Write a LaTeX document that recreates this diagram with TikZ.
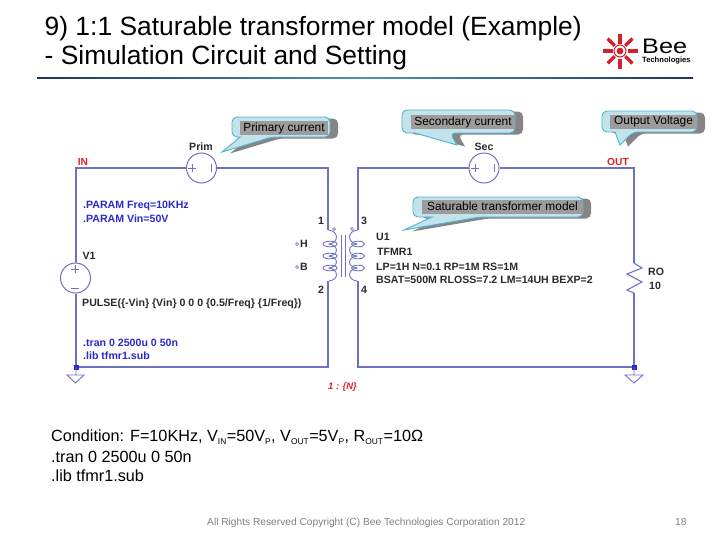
\documentclass[tikz,border=0pt]{standalone}
\usepackage{fontspec}
\setmainfont{Liberation Sans}
\definecolor{wire}{HTML}{6F72C4}
\definecolor{wiredark}{HTML}{2A2AC8}
\definecolor{dirblue}{HTML}{2A2ACC}
\definecolor{labred}{HTML}{E0202A}
\definecolor{schem}{HTML}{2A2A2A}
\definecolor{bubfill}{HTML}{C2E2EC}
\definecolor{bubedge}{HTML}{4FB4D0}
\definecolor{bubshadow}{HTML}{858585}
\definecolor{bubinner}{HTML}{9C9C9C}
\definecolor{foot}{HTML}{808080}
\definecolor{logored}{HTML}{D4202A}
\definecolor{ruleend}{HTML}{1F3560}
\definecolor{rulemid}{HTML}{4A95B5}
\newcommand{\sbs}[1]{\raisebox{-2.5pt}{\fontsize{8.4}{9}\selectfont #1}\kern0.5pt}
% x1 y1 x2 y2 tail1 tail2 tipx tipy
\newcommand{\talkbubble}[8]{%
  \fill[bubshadow,rounded corners=5pt,xshift=8pt,yshift=-1.5pt]
    (#1,#2) -- (#3,#2) -- (#3,#4) -- (#6,#4) [sharp corners] -- (#7,#8) -- (#5,#4) [rounded corners=5pt] -- (#1,#4) -- cycle;
  \draw[draw=bubedge,fill=bubfill,line width=0.9pt,rounded corners=5pt]
    (#1,#2) -- (#3,#2) -- (#3,#4) -- (#6,#4) [sharp corners] -- (#7,#8) -- (#5,#4) [rounded corners=5pt] -- (#1,#4) -- cycle;
}
\tikzset{
  x=1pt,y=-1pt,
  wireline/.style={draw=wire,line width=1.1pt},
  source/.style={circle,draw=wire,line width=1pt,minimum size=30pt,inner sep=0pt,fill=white},
  schemtext/.style={font=\fontsize{10.6}{12}\selectfont\bfseries,text=schem,inner sep=0pt},
  dirtext/.style={font=\fontsize{10.6}{12}\selectfont\bfseries,text=dirblue,inner sep=0pt,anchor=west},
  netlabel/.style={font=\fontsize{10.2}{12}\selectfont\bfseries,text=labred,inner sep=0pt},
  balloontext/.style={fill=bubinner,text=black,font=\fontsize{11.9}{13}\selectfont,inner sep=0pt,text height=8.5pt,text depth=2.5pt,minimum height=14pt},
  titletext/.style={font=\fontsize{26.4}{30}\selectfont,text=black,inner sep=0pt,anchor=base west},
  bodytext/.style={font=\fontsize{16.2}{18}\selectfont,text=black,inner sep=0pt,anchor=base west},
  foottext/.style={font=\fontsize{10.2}{12}\selectfont,text=foot,inner sep=0pt,anchor=base west},
  joint/.style={rectangle,fill=wiredark,minimum size=5pt,inner sep=0pt},
  portdot/.style={circle,draw=wire,line width=0.7pt,minimum size=3pt,inner sep=0pt,fill=white},
  corewire/.style={draw=wire,line width=0.9pt},
}
\begin{document}
\begin{tikzpicture}
\useasboundingbox (0,0) rectangle (728,546);
\fill[white] (0,0) rectangle (728,546);

% title
\node[titletext] (title1) at (44.5,35) {9) 1:1 Saturable transformer model (Example)};
\node[titletext] (title2) at (44.5,64) {- Simulation Circuit and Setting};
\shade[left color=ruleend,right color=ruleend,middle color=rulemid] (37,77) rectangle (693,78.3);

% logo
\foreach \a in {0,45,...,315}{
  \draw[logored,line width=3.2pt] (620,51) ++(\a:7.5) -- ++(\a:10);
}
\draw[logored,line width=1pt,fill=white] (620,51) circle (6);
\fill[logored] (620,51) circle (3.4);
\node[inner sep=0pt,anchor=base west,font=\fontsize{21}{23}\selectfont,xscale=1.2] (beelogo) at (642,53) {Bee};
\node[inner sep=0pt,anchor=base west,font=\fontsize{7.6}{8}\selectfont\bfseries] (techlogo) at (642,62) {Technologies};

% nets
\coordinate (tl) at (76,168);
\coordinate (bl) at (76,367);
\coordinate (ptop) at (328,168);
\coordinate (pcoilt) at (328,230);
\coordinate (pcoilb) at (328,281);
\coordinate (pbot) at (328,367);
\coordinate (stl) at (358,168);
\coordinate (scoilt) at (358,230);
\coordinate (scoilb) at (358,281);
\coordinate (sbl) at (358,367);
\coordinate (tr) at (634,168);
\coordinate (br) at (634,367);
\coordinate (rtop) at (634,263);
\coordinate (rbot) at (634,293);

\node[source] (prim) at (201.5,168) {};
\node[source] (sec) at (484,168) {};
\node[source] (vone) at (75.5,278) {};

\draw[wireline] (vone.north) -- (vone.north -| tl) -- (tl) -- (prim.west);
\draw[wireline] (prim.east) -- (ptop) -- (pcoilt);
\draw[wireline] (pcoilb) -- (pbot) -- (bl) -- (vone.south -| bl);
\draw[wireline] (scoilt) -- (stl) -- (sec.west);
\draw[wireline] (sec.east) -- (tr) -- (rtop);
\draw[wireline] (rtop) -- (642,268) -- (627,274) -- (642,282) -- (627,290) -- (rbot);
\draw[wireline] (rbot) -- (br) -- (sbl) -- (scoilb);

% source marks
\draw[wire,line width=0.9pt] (188,168) -- (196,168) (192,164) -- (192,172) (211,164) -- (211,172);
\draw[wire,line width=0.9pt] (471,168) -- (479,168) (475,164) -- (475,172) (494,164) -- (494,172);
\draw[wire,line width=0.9pt] (71,269) -- (79,269) (75,265) -- (75,273) (71,288) -- (79,288);

% grounds
\node[joint] (jl) at (76,367) {};
\node[joint] (jr) at (634,367) {};
\draw[wire,line width=0.9pt] (jl.center) -- (76,375) (67,375) -- (84,375) -- (75.5,383) -- cycle;
\draw[wire,line width=0.9pt] (jr.center) -- (634,375) (625,375) -- (643,375) -- (634,383) -- cycle;

% transformer
\foreach \ya/\yb in {230/244,244/256,256/268,268/281}{
  \draw[corewire] (328.5,\ya) .. controls (339,\ya+1) and (339,\yb-1) .. (329,\yb);
  \draw[corewire] (357.5,\ya) .. controls (347,\ya+1) and (347,\yb-1) .. (357,\yb);
}
\foreach \y in {244,256,268}{
  \draw[corewire] (330,\y) ellipse (7 and 2.8);
  \draw[corewire] (358,\y) ellipse (6.5 and 2.8);
}
\draw[corewire] (341,235) -- (341,277) (345,235) -- (345,277);
\node[portdot] (dota) at (334,229) {};
\node[portdot] (dotb) at (352,229) {};
\node[portdot] (porth) at (297,244) {};
\node[portdot] (portb) at (297,267) {};

% schematic labels
\node[netlabel] (lin) at (83,162) {IN};
\node[netlabel] (lout) at (618,162) {OUT};
\node[schemtext] (lprim) at (201,147) {Prim};
\node[schemtext] (lsec) at (484,147) {Sec};
\node[schemtext] (lv) at (89,256) {V1};
\node[dirtext] (par1) at (83,206) {.PARAM Freq=10KHz};
\node[dirtext] (par2) at (83,219) {.PARAM Vin=50V};
\node[schemtext] (p1) at (321,221) {1};
\node[schemtext] (p2) at (321,290) {2};
\node[schemtext] (p3) at (364,221) {3};
\node[schemtext] (p4) at (364,290) {4};
\node[schemtext] (lh) at (304,244) {H};
\node[schemtext] (lb) at (304,267) {B};
\node[schemtext,anchor=west] (lu) at (376,237) {U1};
\node[schemtext,anchor=west] (ltf) at (377,252) {TFMR1};
\node[schemtext,anchor=west] (lp) at (376,267) {LP=1H N=0.1 RP=1M RS=1M};
\node[schemtext,anchor=west] (lbs) at (376,280) {BSAT=500M RLOSS=7.2 LM=14UH BEXP=2};
\node[schemtext,anchor=west] (lro) at (648,272) {RO};
\node[schemtext,anchor=west] (lten) at (649,285.5) {10};
\node[schemtext,anchor=west] (lpulse) at (82,304) {PULSE(\{-Vin\} \{Vin\} 0 0 0 \{0.5/Freq\} \{1/Freq\})};
\node[dirtext] (dtran) at (83,343) {.tran 0 2500u 0 50n};
\node[dirtext] (dlib) at (83,356) {.lib tfmr1.sub};
\node[netlabel,font=\fontsize{9.4}{11}\selectfont\bfseries\itshape] (lratio) at (342.5,387) {1 : \{N\}};

% callouts
\talkbubble{232}{117}{330}{137}{240}{272}{222}{152}
\node[balloontext,minimum width=88pt] (cprim) at (284,128) {Primary current};
\talkbubble{402}{110}{515}{133}{415}{450}{457}{145}
\node[balloontext,minimum width=104pt] (csec) at (463,122) {Secondary current};
\talkbubble{602}{111}{697}{132}{615}{633}{620}{145}
\node[balloontext,minimum width=87pt] (cout) at (653.5,121.5) {Output Voltage};
\talkbubble{413}{197}{583}{217}{432}{480}{404}{230}
\node[balloontext,minimum width=161pt] (csat) at (502.5,207) {Saturable transformer model};

% conditions
\node[bodytext] (cond) at (51,441.7) {Condition: F=10KHz, V\sbs{IN}=50V\sbs{P}, V\sbs{OUT}=5V\sbs{P}, R\sbs{OUT}=10Ω};
\node[bodytext] (ctran) at (51,462.7) {.tran 0 2500u 0 50n};
\node[bodytext] (clib) at (51,481.7) {.lib tfmr1.sub};

% footer
\node[foottext] (copy) at (207,525) {All Rights Reserved Copyright (C) Bee Technologies Corporation 2012};
\node[foottext] (pnum) at (675,525) {18};
\end{tikzpicture}
\end{document}
